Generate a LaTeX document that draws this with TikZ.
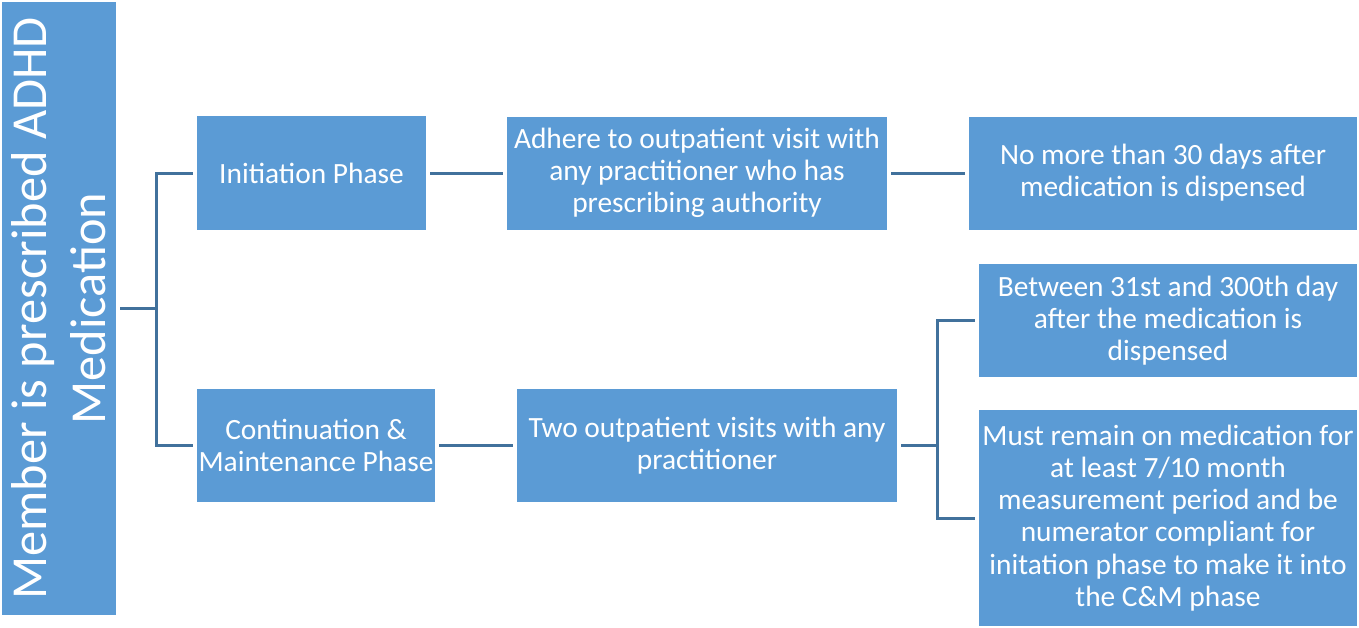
\documentclass[tikz,border=0pt]{standalone}
\usepackage{fontspec}
\setmainfont{Carlito}
\definecolor{boxblue}{HTML}{5B9BD5}
\definecolor{linkblue}{HTML}{41719C}
\tikzset{
  phasebox/.style={rectangle,fill=boxblue,text=white,align=center,outer sep=2pt,
    inner sep=0pt,font=\fontsize{14.7}{16.1}\selectfont},
  link/.style={draw=linkblue,line width=1.5pt}
}
\begin{document}
\begin{tikzpicture}[x=0.5pt,y=-0.5pt]
			\useasboundingbox (0,0) rectangle (1359,627);

			\node[phasebox,rotate=90,minimum width=306.5pt,minimum height=57pt,
			  font=\fontsize{25.2}{29.5}\selectfont] (med) at (59,308.5) {Member is prescribed ADHD\\Medication};

			\node[phasebox,minimum width=114.5pt,minimum height=57pt] (init) at (311.5,173) {Initiation Phase};
			\node[phasebox,minimum width=190pt,minimum height=56.5pt] (adh) at (697,173) {Adhere to outpatient visit with\\any practitioner who has\\prescribing authority};
			\node[phasebox,minimum width=194pt,minimum height=56.5pt] (nomore) at (1163,173) {No more than 30 days after\\medication is dispensed};

			\node[phasebox,minimum width=119pt,minimum height=56.5pt] (cont) at (316,445.5) {Continuation \&\\Maintenance Phase};
			\node[phasebox,minimum width=190pt,minimum height=56.5pt] (two) at (707,445.5) {Two outpatient visits with any\\practitioner};
			\node[phasebox,minimum width=189pt,minimum height=56.5pt] (btw) at (1168,320.5) {Between 31st and 300th day\\after the medication is\\dispensed};
			\node[phasebox,minimum width=189pt,minimum height=108pt] (must) at (1168,518) {Must remain on medication for\\at least 7/10 month\\measurement period and be\\numerator compliant for\\initation phase to make it into\\the C\&M phase};

			\draw[link] (med.south) -- ++(36,0) coordinate (trunk);
			\draw[link] (trunk) |- (init.west);
			\draw[link] (trunk) |- (cont.west);
			\draw[link] (init) -- (adh);
			\draw[link] (adh) -- (nomore);
			\draw[link] (cont) -- (two);
			\draw[link] (two.east) -- ++(36,0) coordinate (fork);
			\draw[link] (fork) |- (btw.west);
			\draw[link] (fork) |- (must.west);
		\end{tikzpicture}
\end{document}
